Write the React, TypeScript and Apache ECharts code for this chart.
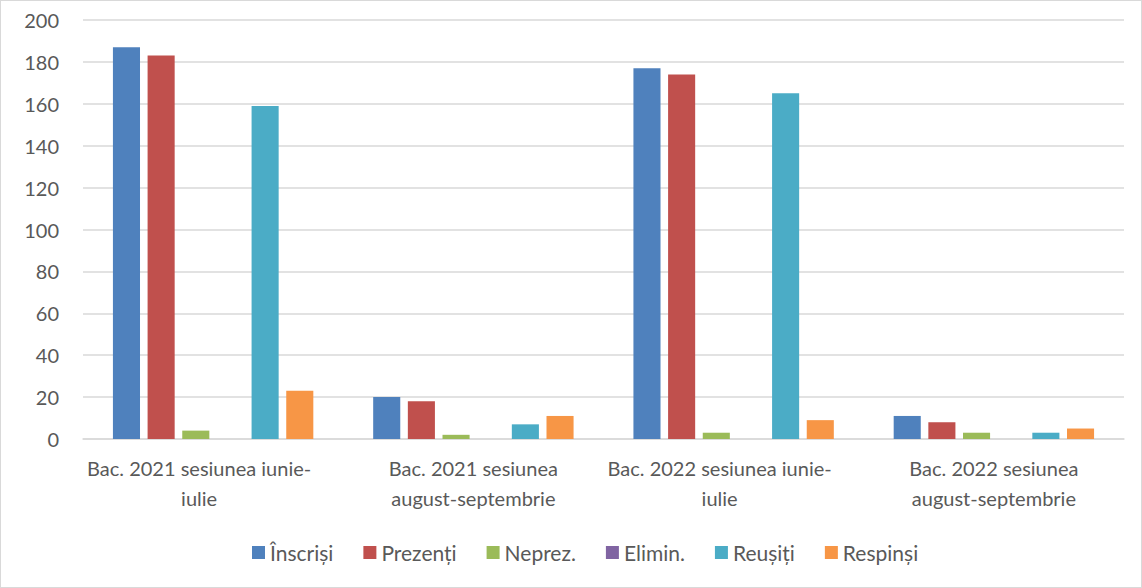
import React, { useEffect, useRef } from "react";
import * as echarts from "echarts";

const categories = [
  "Bac. 2021 sesiunea iunie-\niulie",
  "Bac. 2021 sesiunea\naugust-septembrie",
  "Bac. 2022 sesiunea iunie-\niulie",
  "Bac. 2022 sesiunea\naugust-septembrie",
];
const seriesNames = ["Înscriși", "Prezenți", "Neprez.", "Elimin.", "Reușiți", "Respinși"];
const inscrisi = [187, 20, 177, 11];
const prezenti = [183, 18, 174, 8];
const neprez = [4, 2, 3, 3];
const elimin = [0, 0, 0, 0];
const reusiti = [159, 7, 165, 3];
const respinsi = [23, 11, 9, 5];
const colors = ["#4f81bd", "#c0504d", "#9bbb59", "#8064a2", "#4bacc6", "#f79646"];

export default function App() {
  const ref = useRef<HTMLDivElement>(null);
  useEffect(() => {
    if (!ref.current) return;
    const chart = echarts.init(ref.current, null, { renderer: "svg" });
    const data = [inscrisi, prezenti, neprez, elimin, reusiti, respinsi];
    chart.setOption({
      animation: false,
      color: colors,
      textStyle: { fontFamily: "Lato" },
      grid: { left: 82, right: 17, top: 19, bottom: 148, containLabel: false },
      legend: {
        left: 246,
        top: 536,
        itemWidth: 13,
        itemHeight: 13,
        itemGap: 30,
        icon: "rect",
        textStyle: { fontSize: 21, color: "#595959", fontFamily: "Lato", padding: [0, 0, 0, 0] },
        data: seriesNames,
      },
      xAxis: {
        type: "category",
        data: categories,
        axisLine: { lineStyle: { color: "#d9d9d9", width: 1.5 } },
        axisTick: { show: false },
        axisLabel: {
          fontSize: 20,
          color: "#595959",
          lineHeight: 30,
          margin: 14,
          interval: 0,
          formatter: (v: string) =>
            v.indexOf("iunie") >= 0
              ? v
                  .split("\n")
                  .map((l) => `{s|${l}}`)
                  .join("\n")
              : v,
          rich: {
            s: { fontSize: 20, color: "#595959", lineHeight: 30, padding: [0, 28, 0, 0], fontFamily: "Lato" },
          },
        },
      },
      yAxis: {
        type: "value",
        min: 0,
        max: 200,
        interval: 20,
        axisLine: { show: false },
        axisTick: { show: false },
        splitLine: { lineStyle: { color: "#d9d9d9", width: 1.5 } },
        axisLabel: { fontSize: 20, color: "#595959", margin: 24 },
      },
      series: seriesNames.map((name, i) => ({
        name,
        type: "bar",
        data: data[i],
        barGap: "28%",
        barCategoryGap: "23%",
        itemStyle: { color: colors[i] },
      })),
    });
    return () => chart.dispose();
  }, []);
  return (
    <div
      style={{
        position: "absolute",
        left: 0,
        top: 0,
        width: 1142,
        height: 588,
        boxSizing: "border-box",
        border: "1px solid #d9d9d9",
        background: "#fff",
      }}
    >
      <div ref={ref} style={{ width: 1140, height: 586 }} />
    </div>
  );
}
